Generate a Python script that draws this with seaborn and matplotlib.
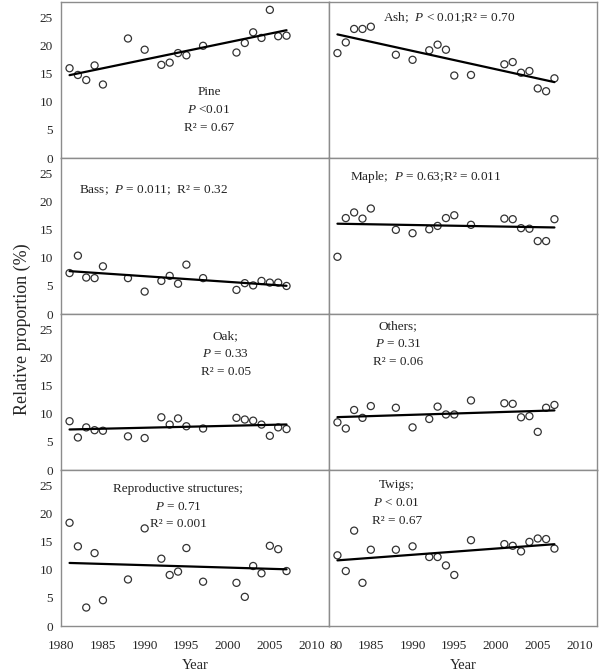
import pandas as pd
import seaborn as sns
import matplotlib.pyplot as plt

# sampling years shared by every panel
years = [1981, 1982, 1983, 1984, 1985, 1988, 1990, 1992, 1993, 1994,
         1995, 1997, 2001, 2002, 2003, 2004, 2005, 2006, 2007]

# relative proportion (%) of each litter component
pine = [16.0, 14.8, 13.9, 16.5, 13.1, 21.3, 19.3, 16.6, 17.0, 18.7,
        18.3, 20.0, 18.8, 20.5, 22.4, 21.4, 26.4, 21.7, 21.8]
ash = [18.7, 20.6, 23.0, 23.0, 23.4, 18.4, 17.5, 19.2, 20.2, 19.3,
       14.7, 14.8, 16.7, 17.1, 15.2, 15.5, 12.4, 11.9, 14.2]
bass = [7.3, 10.4, 6.5, 6.4, 8.5, 6.4, 4.0, 5.9, 6.8, 5.4,
        8.8, 6.4, 4.3, 5.5, 5.1, 5.9, 5.6, 5.6, 5.0]
maple = [10.2, 17.1, 18.1, 17.0, 18.8, 15.0, 14.4, 15.1, 15.7, 17.1,
         17.6, 15.9, 17.0, 16.9, 15.3, 15.2, 13.0, 13.0, 16.9]
oak = [8.7, 5.8, 7.6, 7.1, 7.0, 6.0, 5.7, 9.4, 8.1, 9.2,
       7.8, 7.4, 9.3, 9.0, 8.8, 8.1, 6.1, 7.6, 7.3]
others = [8.5, 7.4, 10.7, 9.3, 11.4, 11.1, 7.6, 9.1, 11.3, 9.9,
          9.9, 12.4, 11.9, 11.8, 9.4, 9.6, 6.8, 11.1, 11.6]
repro = [18.4, 14.2, 3.3, 13.0, 4.6, 8.3, 17.4, 12.0, 9.1, 9.7,
         13.9, 7.9, 7.7, 5.2, 10.7, 9.4, 14.3, 13.7, 9.8]
twigs = [12.6, 9.8, 17.0, 7.7, 13.6, 13.6, 14.2, 12.3, 12.3, 10.8,
         9.1, 15.3, 14.6, 14.3, 13.3, 15.0, 15.6, 15.5, 13.8]

panel_names = ['Pine', 'Ash', 'Bass', 'Maple', 'Oak', 'Others',
               'Reproductive structures', 'Twigs']
panel_values = [pine, ash, bass, maple, oak, others, repro, twigs]

# annotation text of each panel, one entry per line
panel_notes = [
    ['Pine', '$P$ <0.01', 'R² = 0.67'],
    ['Ash;  $P$ < 0.01;R² = 0.70'],
    ['Bass;  $P$ = 0.011;  R² = 0.32'],
    ['Maple;  $P$ = 0.63;R² = 0.011'],
    ['Oak;', '$P$ = 0.33', 'R² = 0.05'],
    ['Others;', '$P$ = 0.31', 'R² = 0.06'],
    ['Reproductive structures;', '$P$ = 0.71', 'R² = 0.001'],
    ['Twigs;', '$P$ < 0.01', 'R² = 0.67'],
]
# where the first line of each note sits (data coords)
note_pos = [(1997.7, 11.8), (1994.4, 25.0), (1991.1, 22.1), (1991.6, 24.5),
            (1999.7, 23.8), (1988.3, 25.7), (1994.0, 24.5), (1988.1, 25.1)]

x_ticks = [1980, 1985, 1990, 1995, 2000, 2005, 2010]
x_labels_left = ['1980', '1985', '1990', '1995', '2000', '2005', '2010']
x_labels_right = ['80', '1985', '1990', '1995', '2000', '2005', '2010']
y_ticks = [0, 5, 10, 15, 20, 25]


def build_frame():
    """long table: one row per year and component"""
    rows = []
    for name, vals in zip(panel_names, panel_values):
        for yr, v in zip(years, vals):
            rows.append({'Year': yr, 'Proportion': v, 'Component': name})
    return pd.DataFrame(rows)


def main():
    sns.set_style('white')
    plt.rcParams['font.family'] = ['Liberation Serif', 'DejaVu Serif']
    plt.rcParams['mathtext.fontset'] = 'custom'
    plt.rcParams['mathtext.rm'] = 'Liberation Serif'
    plt.rcParams['mathtext.it'] = 'Liberation Serif:italic'

    df = build_frame()

    fig, axes = plt.subplots(4, 2, figsize=(6, 6.71), dpi=100, sharey=True)
    fig.subplots_adjust(left=0.102, right=0.995, top=0.997, bottom=0.067,
                        wspace=0, hspace=0)

    for i, ax in enumerate(axes.flat):
        sub = df[df['Component'] == panel_names[i]]
        sns.regplot(x='Year', y='Proportion', data=sub, ax=ax, ci=None,
                    truncate=True,
                    scatter_kws={'s': 26, 'facecolors': 'none',
                                 'edgecolors': 'black', 'linewidths': 0.9},
                    line_kws={'color': 'black', 'linewidth': 1.6})
        ax.set_xlim(1980, 2012.1)
        ax.set_ylim(0, 27.8)
        ax.set_xticks(x_ticks)
        ax.set_xlabel('')
        ax.set_ylabel('')
        for sp in ax.spines.values():
            sp.set_color('#8c8c8c')
            sp.set_linewidth(1)
        ax.tick_params(direction='in', length=3, color='#9a9a9a',
                       labelsize=9.5)
        ax.tick_params(axis='x', pad=10)
        ax.tick_params(axis='y', pad=6)

        x0, y0 = note_pos[i]
        for k, line in enumerate(panel_notes[i]):
            ax.text(x0, y0 - k * 3.2, line, ha='center', va='center',
                    fontsize=9.5, color='#222222')

    for ax in axes[:, 0]:
        ax.set_yticks(y_ticks)
    for ax in axes[:-1, :].flat:
        ax.tick_params(labelbottom=False)
    for ax in axes[:, 1]:
        ax.tick_params(labelleft=False)
    axes[-1, 0].set_xticklabels(x_labels_left)
    axes[-1, 1].set_xticklabels(x_labels_right)
    # the clipped "80" sits just right of the column divide
    axes[-1, 1].get_xticklabels()[0].set_horizontalalignment('left')

    axes[-1, 0].set_xlabel('Year', fontsize=10.5, labelpad=5)
    axes[-1, 1].set_xlabel('Year', fontsize=10.5, labelpad=5)

    fig.text(0.037, 0.51, 'Relative proportion (%)', rotation=90,
             ha='center', va='center', fontsize=13)

    plt.savefig('out.png', dpi=100)


if __name__ == "__main__":
    main()
